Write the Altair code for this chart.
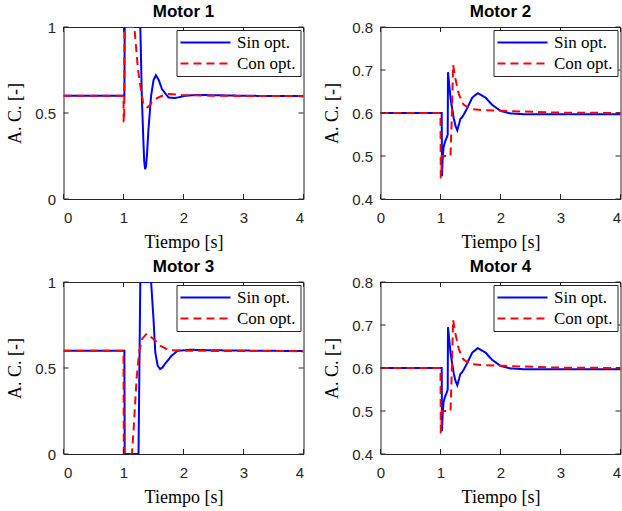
import altair as alt
import pandas as pd

# ---------------- data ----------------
SERIES = ["Sin opt.", "Con opt."]
X_TICKS = [0, 1, 2, 3, 4]
Y_TICKS_A = [0, 0.5, 1]
Y_TICKS_B = [0.4, 0.5, 0.6, 0.7, 0.8]

# Motor 1
m1_sin_t = [0, 1.015, 1.02, 1.28, 1.29, 1.305, 1.33, 1.345, 1.36, 1.375, 1.39, 1.417, 1.46, 1.50, 1.54, 1.59,
            1.64, 1.75, 1.86, 2.03, 2.2, 2.6, 3.0, 4.0]
m1_sin_v = [0.6, 0.6, 1.0, 1.0, 0.85, 0.6, 0.35, 0.22, 0.174, 0.19, 0.25, 0.41, 0.6, 0.69, 0.72, 0.69,
            0.64, 0.59, 0.587, 0.6, 0.605, 0.603, 0.6, 0.598]
m1_con_t = [0, 1.0, 1.003, 1.012, 1.016, 1.18, 1.21, 1.24, 1.28, 1.33, 1.37, 1.40, 1.44, 1.47, 1.53, 1.58,
            1.66, 1.75, 1.97, 2.5, 4.0]
m1_con_v = [0.6, 0.6, 0.45, 0.45, 1.0, 1.0, 0.88, 0.756, 0.66, 0.552, 0.535, 0.533, 0.545, 0.562, 0.58, 0.59,
            0.602, 0.61, 0.605, 0.6, 0.598]

# Motor 2
m2_sin_t = [0, 1.02, 1.025, 1.035, 1.05, 1.08, 1.11, 1.12, 1.125, 1.167, 1.22, 1.25, 1.28, 1.31, 1.33, 1.36,
            1.39, 1.44, 1.53, 1.62, 1.75, 1.86, 2.0, 2.17, 2.4, 3.0, 4.0]
m2_sin_v = [0.6, 0.6, 0.453, 0.49, 0.52, 0.535, 0.545, 0.55, 0.695, 0.635, 0.588, 0.57, 0.56, 0.575, 0.586, 0.59,
            0.597, 0.61, 0.636, 0.646, 0.636, 0.619, 0.605, 0.599, 0.597, 0.597, 0.597]
m2_con_t = [0, 1.0, 1.005, 1.015, 1.02, 1.167, 1.19, 1.21, 1.25, 1.305, 1.38, 1.5, 1.7, 2.06, 2.9, 4.0]
m2_con_v = [0.6, 0.6, 0.45, 0.45, 0.5, 0.5, 0.6, 0.712, 0.679, 0.644, 0.62, 0.609, 0.607, 0.605, 0.601, 0.6]

# Motor 3
m3_sin_t = [0, 1.015, 1.02, 1.25, 1.28, 1.46, 1.50, 1.53, 1.57, 1.61, 1.65, 1.69, 1.80, 1.9, 2.1, 2.5, 4.0]
m3_sin_v = [0.6, 0.6, 0.0, 0.0, 1.0, 1.0, 0.785, 0.59, 0.513, 0.494, 0.503, 0.523, 0.571, 0.6, 0.606, 0.603, 0.598]
m3_con_t = [0, 1.0, 1.005, 1.14, 1.17, 1.2, 1.22, 1.26, 1.31, 1.39, 1.5, 1.61, 1.75, 2.0, 4.0]
m3_con_v = [0.6, 0.6, 0.0, 0.0, 0.15, 0.33, 0.446, 0.59, 0.669, 0.70, 0.669, 0.63, 0.605, 0.6, 0.598]

# Motor 4 (same response as Motor 2 in the reference)
m4_sin_t, m4_sin_v = m2_sin_t, m2_sin_v
m4_con_t, m4_con_v = m2_con_t, m2_con_v

# ---------------- styling ----------------
COLORS = ["#0000ff", "#ff0000"]
DASHES = [[1, 0], [8, 5]]
W, H = 240, 172
FRAME = "#262626"
TICK = 5


def panel(title, ts, vs, tc, vc, ydom, yticks, right=False):
    df = pd.DataFrame({
        "t": list(ts) + list(tc),
        "v": list(vs) + list(vc),
        "serie": [SERIES[0]] * len(ts) + [SERIES[1]] * len(tc),
    })
    xscale = alt.Scale(domain=[0, 4], nice=False)
    yscale = alt.Scale(domain=ydom, nice=False, zero=False)
    xaxis_kw = dict(values=X_TICKS, title="Tiempo [s]", titleFontWeight="normal")
    if right:
        xaxis_kw["labelAlign"] = alt.expr("datum.value == 4 ? 'right' : 'center'")
    xaxis = alt.Axis(**xaxis_kw)
    yaxis = alt.Axis(values=yticks, format="~g", title="A. C. [-]", titleFontWeight="normal")

    lines = alt.Chart(df).mark_line(strokeWidth=2, clip=True).encode(
        x=alt.X("t:Q", scale=xscale, axis=xaxis),
        y=alt.Y("v:Q", scale=yscale, axis=yaxis),
        color=alt.Color("serie:N", scale=alt.Scale(domain=SERIES, range=COLORS),
                        legend=alt.Legend(title=None)),
        strokeDash=alt.StrokeDash("serie:N", scale=alt.Scale(domain=SERIES, range=DASHES),
                                  legend=alt.Legend(title=None)),
    )
    xt = pd.DataFrame({"t": X_TICKS})
    yt = pd.DataFrame({"v": yticks})
    xb = alt.Chart(xt).mark_rule(color=FRAME, strokeWidth=1).encode(
        x=alt.X("t:Q", scale=xscale, axis=xaxis), y=alt.value(H), y2=alt.value(H - TICK))
    xtp = alt.Chart(xt).mark_rule(color=FRAME, strokeWidth=1).encode(
        x=alt.X("t:Q", scale=xscale, axis=xaxis), y=alt.value(0), y2=alt.value(TICK))
    yl = alt.Chart(yt).mark_rule(color=FRAME, strokeWidth=1).encode(
        y=alt.Y("v:Q", scale=yscale, axis=yaxis), x=alt.value(0), x2=alt.value(TICK))
    yr = alt.Chart(yt).mark_rule(color=FRAME, strokeWidth=1).encode(
        y=alt.Y("v:Q", scale=yscale, axis=yaxis), x=alt.value(W), x2=alt.value(W - TICK))
    return alt.layer(lines, xb, xtp, yl, yr).properties(
        width=W, height=H, title=alt.TitleParams(title, frame="group"))


p1 = panel("Motor 1", m1_sin_t, m1_sin_v, m1_con_t, m1_con_v, [0, 1], Y_TICKS_A)
p2 = panel("Motor 2", m2_sin_t, m2_sin_v, m2_con_t, m2_con_v, [0.4, 0.8], Y_TICKS_B, right=True)
p3 = panel("Motor 3", m3_sin_t, m3_sin_v, m3_con_t, m3_con_v, [0, 1], Y_TICKS_A)
p4 = panel("Motor 4", m4_sin_t, m4_sin_v, m4_con_t, m4_con_v, [0.4, 0.8], Y_TICKS_B, right=True)

chart = alt.concat(
    p1, p2, p3, p4, columns=2, spacing=alt.RowColnumber(row=83, column=77), bounds="flush"
).resolve_scale(
    color="independent", strokeDash="independent"
).resolve_legend(
    color="independent", strokeDash="independent"
).properties(
    padding={"left": 5.5, "top": 2, "right": 0, "bottom": 0}, background="white"
).configure_view(
    stroke=FRAME, strokeWidth=1
).configure_axis(
    labelFont="Liberation Sans", labelFontSize=15, labelColor=FRAME,
    titleFont="Liberation Serif", titleFontSize=18, titleFontWeight="normal", titleColor="black",
    ticks=False, domain=False, grid=False,
).configure_axisX(
    labelPadding=11, titlePadding=8
).configure_axisY(
    labelPadding=8, titlePadding=10.5
).configure_title(
    font="Liberation Sans", fontSize=17, fontWeight="bold", color="black", offset=-1, anchor="middle"
).configure_legend(
    orient="top-right", offset=3, strokeColor=FRAME, fillColor="white", padding=4,
    labelFont="Liberation Serif", labelFontSize=17, labelColor="black",
    symbolType="M-3.85,0H3.85", symbolSize=169, symbolStrokeWidth=2,
    symbolOffset=16.5, labelOffset=23, rowPadding=3, cornerRadius=0,
)

chart.save("out.html", embed_options={"renderer": "svg", "actions": False})
